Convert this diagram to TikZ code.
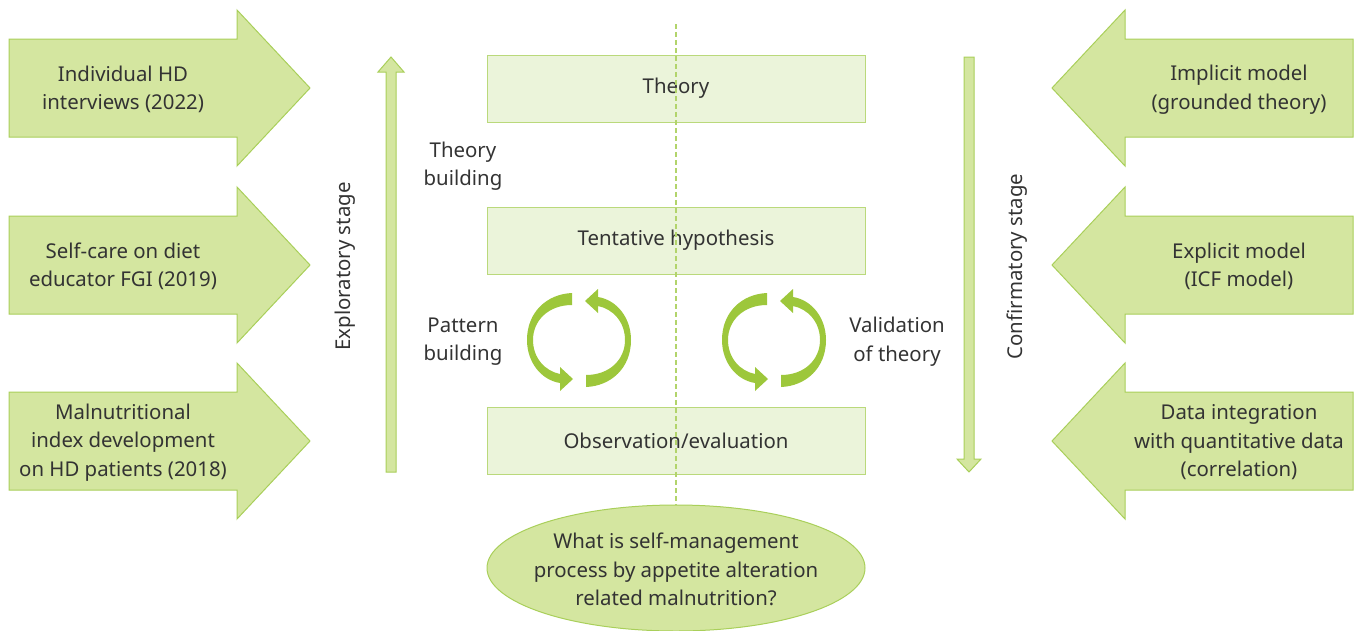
\documentclass[tikz,border=0pt]{standalone}
\usepackage{fontspec}
\setmainfont{Noto Sans}
\usetikzlibrary{shapes.geometric}
\usetikzlibrary{positioning}
\definecolor{leafgreen}{HTML}{A9CF5A}
\definecolor{paleleaf}{HTML}{D4E6A0}
\definecolor{lightleaf}{HTML}{EBF4DA}
\definecolor{cyclegreen}{HTML}{9DC73B}
\definecolor{textgrey}{HTML}{333333}
\tikzset{
	txt/.style={align=center, text=textgrey, font=\fontsize{20.4}{28.5}\selectfont, yshift=-1.5pt},
	bigarrow/.style={fill=paleleaf, draw=leafgreen, line width=1pt},
	thinarrow/.style={fill=paleleaf, draw=leafgreen, line width=1pt},
	stagebox/.style={txt, rectangle, fill=lightleaf, draw=leafgreen!80, line width=1pt,
		minimum width=378pt, minimum height=67pt, inner sep=0pt, yshift=1.5pt},
	question/.style={ellipse, fill=paleleaf, draw=leafgreen, line width=1pt,
		minimum width=378pt, minimum height=126pt, inner sep=0pt},
	divider/.style={draw=leafgreen!90, line width=1.5pt, dash pattern=on 5pt off 3pt},
	pics/bodyarrow/.style={code={
		\path[bigarrow] (-114,-49) -- (114,-49) -- (114,-78) -- (187,0) -- (114,78)
			-- (114,49) -- (-114,49) -- cycle;}},
	pics/halfcycle/.style={code={
		\fill[cyclegreen] (-7,-47) .. controls (-32,-46) and (-52,-28) .. (-52,0)
			.. controls (-52,22) and (-38,40) .. (-19,43) -- (-19,51) -- (-6,39)
			-- (-19,27) -- (-19,34) .. controls (-34,31) and (-46,18) .. (-46,0)
			.. controls (-46,-20) and (-30,-35) .. (-7,-35) -- cycle;}},
	pics/cycle/.style={code={
		\pic {halfcycle};
		\pic[rotate=180] {halfcycle};}}
}

\begin{document}
\begin{tikzpicture}[x=1pt, y=-1pt]
\useasboundingbox (0,0) rectangle (1359,630);

% input arrows
\pic at (123,88) {bodyarrow};
\pic at (123,265) {bodyarrow};
\pic at (123,441) {bodyarrow};
\node[txt] (hdint) at (123,88) {Individual HD\\interviews (2022)};
\node[txt] (fgi) at (123,265) {Self-care on diet\\educator FGI (2019)};
\node[txt] (index) at (123,441) {Malnutritional\\index development\\on HD patients (2018)};

\pic[xscale=-1] at (1239,88) {bodyarrow};
\pic[xscale=-1] at (1239,265) {bodyarrow};
\pic[xscale=-1] at (1239,441) {bodyarrow};
\node[txt] (implicit) at (1239,88) {Implicit model\\(grounded theory)};
\node[txt] (explicit) at (1239,265) {Explicit model\\(ICF model)};
\node[txt] (integration) at (1239,441) {Data integration\\with quantitative data\\(correlation)};

% stages
\path[thinarrow] (386,472) -- (386,72) -- (378,72) -- (391,57) -- (404,72) -- (396,72)
	-- (396,472) -- cycle;
\path[thinarrow] (964,57) -- (964,459) -- (957,459) -- (969,472) -- (981,459) -- (974,459)
	-- (974,57) -- cycle;
\node[txt, rotate=90] (exploratory) at (345,265) {Exploratory stage};
\node[txt, rotate=90] (confirmatory) at (1017,265) {Confirmatory stage};

\node[stagebox] (theory) at (676,88.5) {Theory};
\node[stagebox] (hypothesis) at (676,240.5) {Tentative hypothesis};
\node[stagebox] (observation) at (676,440.5) {Observation/evaluation};
\node[question] (question) at (676,568) {};
\node[txt] (questiontext) at (question) {What is self-management\\process by appetite alteration\\related malnutrition?};

\coordinate (dtop) at (676,24);
\draw[divider] (dtop) -- (question.north);

\node[txt] (thbuild) at (463,164.5) {Theory\\building};
\node[txt] (patbuild) at (463,340) {Pattern\\building};
\node[txt] (validation) at (897,340) {Validation\\of theory};

\pic at (579,340) {cycle};
\pic at (774,340) {cycle};

\end{tikzpicture}
\end{document}
